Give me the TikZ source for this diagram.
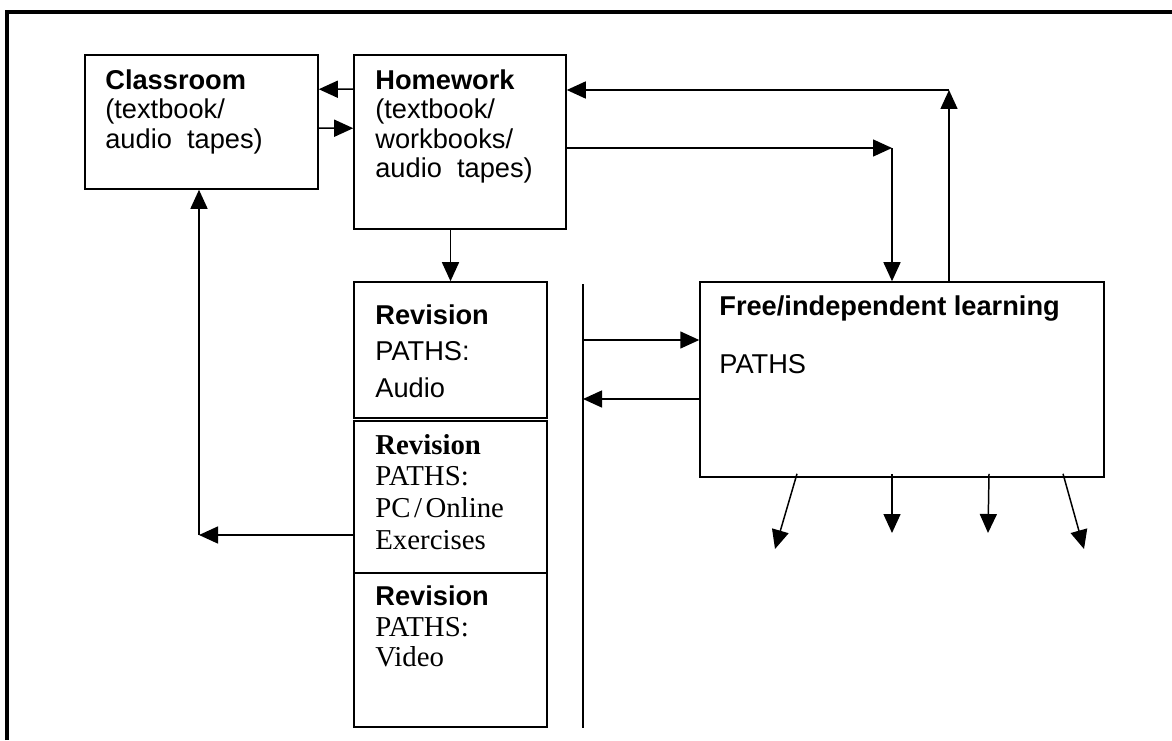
\documentclass[tikz,border=0pt]{standalone}
\usepackage{fontspec}
\setmainfont{Liberation Sans}
\newfontfamily\serifpaths{Liberation Serif}
\usetikzlibrary{arrows.meta}

\begin{document}
\begin{tikzpicture}[x=0.02cm, y=-0.02cm,
  arr/.style={line width=0.85pt, -{Triangle[length=0.38cm, width=0.34cm]}},
  font=\fontsize{15.5}{16.8}\selectfont]
% page
\useasboundingbox (0,0) rectangle (1172,740);
\draw[line width=2.2pt] (7,740) -- (7,12) -- (1172,12);

% coordinates
\coordinate (TR) at (949,90);
\coordinate (MR) at (892,148);
\coordinate (VT) at (583,284);
\coordinate (VB) at (583,728);
\coordinate (L1) at (583,340);
\coordinate (L2) at (583,399);
\coordinate (CL) at (199,535);

% boxes
\begin{scope}[every node/.style={draw, rectangle, line width=0.9pt, inner sep=0pt}]
\node[minimum width=4.66cm, minimum height=2.68cm] (class) at (201.5,122) {};
\node[minimum width=4.24cm, minimum height=3.48cm] (home) at (460,142) {};
\node[minimum width=3.86cm, minimum height=2.72cm] (audio) at (450.5,350) {};
\node[minimum width=3.86cm, minimum height=3.04cm] (pc) at (450.5,497) {};
\node[minimum width=3.86cm, minimum height=3.08cm] (video) at (450.5,650) {};
\node[minimum width=8.08cm, minimum height=3.9cm] (free) at (902,379.5) {};
\end{scope}

% texts
\begin{scope}[every node/.style={anchor=north west, align=left, inner sep=0pt}]
\node (class-t) at (105,69) {\textbf{Classroom}\\(textbook/\\audio\ \ tapes)};
\node (home-t) at (375,69) {\textbf{Homework}\\(textbook/\\workbooks/\\audio\ \ tapes)};
\node[font=\fontsize{15.5}{20.8}\selectfont] (audio-t) at (375,304) {\textbf{Revision}\\PATHS:\\Audio};
\node[font=\fontsize{16.4}{18}\selectfont\serifpaths] (pc-t) at (375,434) {\textbf{Revision}\\PATHS:\\PC\kern2pt/\kern2pt Online\\Exercises};
\node[font=\fontsize{15.5}{17.6}\selectfont] (video-t) at (375,585) {\textbf{Revision}\\{\fontsize{16.4}{17.6}\serifpaths PATHS:}\\{\fontsize{16.4}{17.6}\serifpaths Video}};
\node (free-t) at (719,295) {\textbf{Free/independent\ learning}\\[0.58cm]PATHS};
\end{scope}

% homework and classroom
\draw[arr] ([yshift=-0.7cm]home.north west) -- ([yshift=-0.7cm]class.north east);
\draw[arr] ([yshift=-1.48cm]class.north east) -- ([yshift=-1.48cm]home.north west);
\draw[arr] (home.south -| audio.north) -- (audio.north);

% loop to free learning
\draw[arr] (home.east |- MR) -- (MR);
\draw[arr] (MR) -- (MR |- free.north);
\draw[arr] (free.north -| TR) -- (TR);
\draw[arr] (TR) -- (TR -| home.east);

% divider
\draw[line width=0.85pt] (VT) -- (VB);
\draw[arr] (L1) -- (L1 -| free.west);
\draw[arr] (L2 -| free.west) -- (L2);

% back to classroom
\draw[arr] (CL -| pc.west) -- (CL);
\draw[arr] (CL) -- (CL |- class.south);

% outputs
\coordinate (fb) at ([yshift=0.08cm]free.south);
\foreach \sx/\ex/\ey [count=\i] in {797/775/549, 892/892/533, 989/988/533, 1063/1084/549}
{
  \coordinate (s\i) at (\sx,0);
  \coordinate (out\i) at (\ex,\ey);
  \draw[arr] (fb -| s\i) -- (out\i);
}

\end{tikzpicture}
\end{document}
